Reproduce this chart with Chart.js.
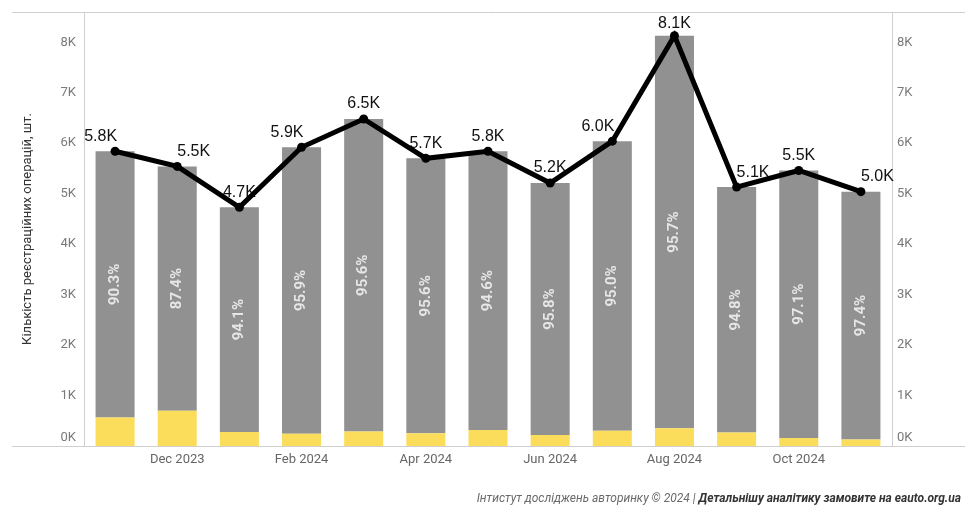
<!DOCTYPE html>
<html>
<head>
<meta charset="utf-8">
<script src="https://cdn.jsdelivr.net/npm/chart.js@4"></script>
<style>
  html, body { margin: 0; padding: 0; background: #fff; }
  #wrap { position: relative; width: 975px; height: 519px; }
  #footer { position: absolute; right: 14px; top: 491px; font: italic 12px Roboto, sans-serif; color: #6a6a6a; white-space: nowrap; }
  #footer b { color: #333; }
</style>
</head>
<body>
<div id="wrap">
  <canvas id="c" width="975" height="519"></canvas>
  <div id="footer">Інтистут досліджень авторинку © 2024 | <b>Детальнішу аналітику замовите на eauto.org.ua</b></div>
</div>
<script>
const months = ['Nov 2023','Dec 2023','Jan 2024','Feb 2024','Mar 2024','Apr 2024','May 2024','Jun 2024','Jul 2024','Aug 2024','Sep 2024','Oct 2024','Nov 2024'];
const totals = [5840, 5540, 4730, 5920, 6480, 5700, 5840, 5210, 6040, 8130, 5130, 5460, 5040];
const sharePct = [90.3, 87.4, 94.1, 95.9, 95.6, 95.6, 94.6, 95.8, 95.0, 95.7, 94.8, 97.1, 97.4];
const yellowVals = [566, 699, 279, 243, 285, 251, 315, 219, 302, 350, 267, 158, 131];
const greyVals = [5274, 4841, 4451, 5677, 6195, 5449, 5525, 4991, 5738, 7780, 4863, 5302, 4909];
const yTicks = [0, 1000, 2000, 3000, 4000, 5000, 6000, 7000, 8000];

// label placement for line values (style only)
const lineLabelAlign = ['right','left','center','right','center','center','center','center','right','center','left','center','left'];

Chart.defaults.font.family = 'Roboto, sans-serif';

const fmtK = v => (v / 1000).toFixed(1) + 'K';

const customPlugin = {
  id: 'custom',
  beforeDatasetsDraw(chart) {
    const ctx = chart.ctx;
    const a = chart.chartArea;
    ctx.save();
    ctx.strokeStyle = '#cfcfcf';
    ctx.lineWidth = 1;
    ctx.beginPath();
    ctx.moveTo(12, a.top + 0.5); ctx.lineTo(965, a.top + 0.5);
    ctx.moveTo(12, a.bottom + 0.5); ctx.lineTo(965, a.bottom + 0.5);
    ctx.stroke();
    ctx.restore();
  },
  afterDatasetDraw(chart, args) {
    if (args.index !== 1) return;
    const ctx = chart.ctx;
    const meta = chart.getDatasetMeta(1);
    ctx.save();
    ctx.fillStyle = '#e6e6e6';
    ctx.font = 'bold 15px Roboto, sans-serif';
    ctx.textAlign = 'center';
    ctx.textBaseline = 'middle';
    meta.data.forEach((el, i) => {
      const cy = (el.y + el.base) / 2;
      ctx.save();
      ctx.translate(el.x, cy);
      ctx.rotate(-Math.PI / 2);
      ctx.fillText(sharePct[i].toFixed(1) + '%', 0, 0);
      ctx.restore();
    });
    ctx.restore();
  },
  beforeDatasetDraw(chart, args) {
    if (args.index !== 2) return;
    const ctx = chart.ctx;
    const meta = chart.getDatasetMeta(2);
    ctx.save();
    ctx.fillStyle = '#111';
    ctx.font = '16px "Liberation Sans", Arial, sans-serif';
    ctx.textBaseline = 'middle';
    meta.data.forEach((el, i) => {
      ctx.textAlign = lineLabelAlign[i];
      let dx = 0;
      if (lineLabelAlign[i] === 'right') dx = 2;
      const cy = Math.max(el.y - 15, 24);
      ctx.fillText(fmtK(totals[i]), el.x + dx, cy);
    });
    ctx.restore();
  }
};

const tickCb = v => (v === 0 ? ['0K', ''] : (v / 1000) + 'K');
const fixV = w => s => { s.width = w; s.paddingTop = 0; s.paddingBottom = 0; };

new Chart(document.getElementById('c'), {
  data: {
    labels: months,
    datasets: [
      { type: 'bar', data: yellowVals, backgroundColor: '#fbdd5b', stack: 'bars', order: 1, barPercentage: 0.628, categoryPercentage: 1 },
      { type: 'bar', data: greyVals, backgroundColor: '#919191', stack: 'bars', order: 1, barPercentage: 0.628, categoryPercentage: 1 },
      { type: 'line', data: totals, borderColor: '#000', borderWidth: 5, pointRadius: 4.5, pointBackgroundColor: '#000', pointBorderColor: '#000', pointBorderWidth: 0, stack: 'line', order: 0, tension: 0 }
    ]
  },
  options: {
    responsive: false,
    animation: false,
    layout: { padding: { top: 12, left: 0, right: 0, bottom: 0 } },
    plugins: { legend: { display: false }, tooltip: { enabled: false } },
    scales: {
      x: {
        stacked: true,
        grid: { display: false, drawTicks: false },
        border: { display: false },
        ticks: {
          autoSkip: false, maxRotation: 0, padding: 6,
          color: '#666', font: { size: 13 },
          callback: function (v, i) { return i % 2 === 1 ? this.getLabelForValue(v) : ''; }
        },
        afterFit: s => { s.height = 73; s.paddingLeft = 0; s.paddingRight = 0; }
      },
      y: {
        stacked: true,
        position: 'left',
        min: 0, max: 8600,
        afterBuildTicks: s => { s.ticks = yTicks.map(v => ({ value: v })); },
        grid: { display: false, drawTicks: false },
        border: { display: true, color: '#cfcfcf', width: 1 },
        ticks: { padding: 8, color: '#7a7a7a', font: { size: 13 }, callback: tickCb },
        title: { display: true, text: 'Кількість реєстраційних операцій, шт.', color: '#333', font: { size: 13 }, padding: { top: 20, bottom: 0 } },
        afterFit: fixV(84)
      },
      y2: {
        position: 'right',
        min: 0, max: 8600,
        afterBuildTicks: s => { s.ticks = yTicks.map(v => ({ value: v })); },
        grid: { display: false, drawTicks: false },
        border: { display: true, color: '#cfcfcf', width: 1 },
        ticks: { padding: 5, color: '#7a7a7a', font: { size: 13 }, callback: tickCb },
        afterFit: fixV(83)
      }
    }
  },
  plugins: [customPlugin]
});
</script>
</body>
</html>
